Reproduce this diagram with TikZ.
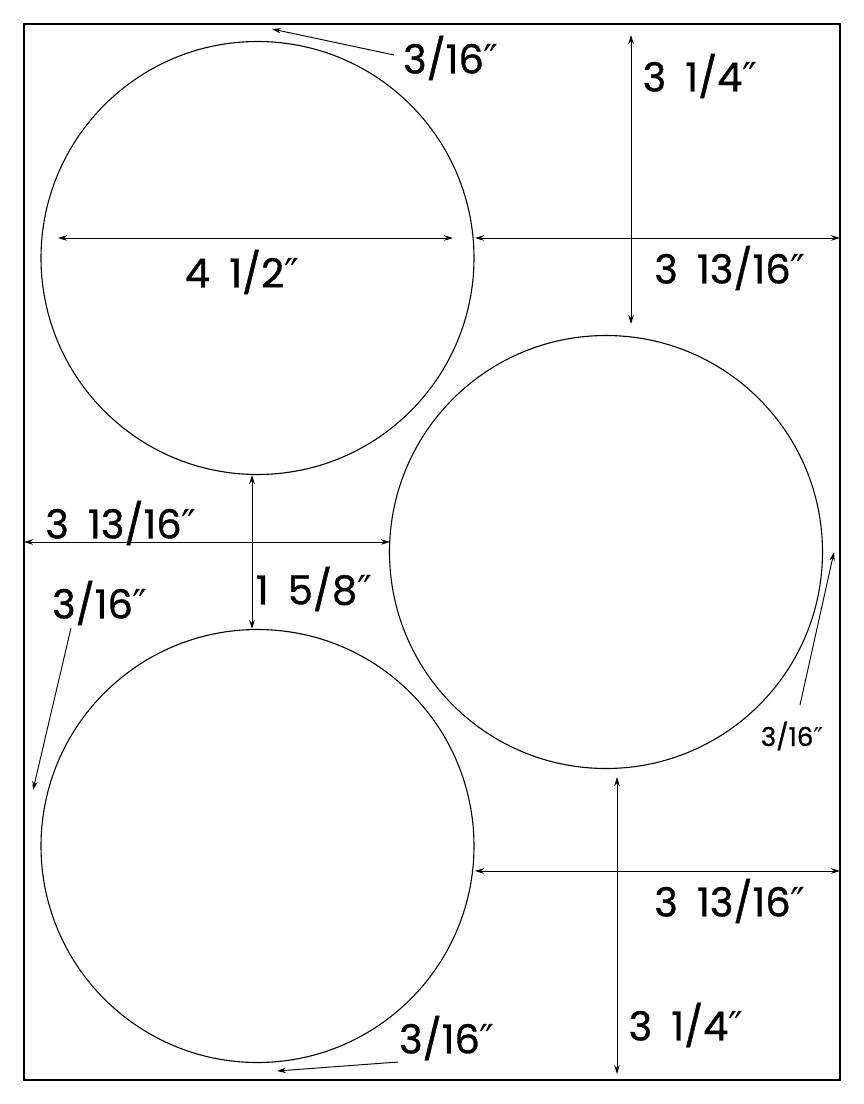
\documentclass[tikz,border=0pt]{standalone}
\usepackage{fontspec}
\setmainfont{Poppins}[FakeBold=0.9, WordSpace=1.8]
\newfontfamily\primefont{DejaVu Sans}
\usetikzlibrary{arrows.meta}
\newcommand{\inch}{{\primefont\char"2033}}
\tikzset{
    sheet/.style={draw, line width=1.3pt, rectangle, minimum width=816pt, minimum height=1056pt, inner sep=0pt},
    disc/.style={draw, line width=1.1pt, circle, minimum size=433pt, inner sep=0pt},
    dim/.style={line width=0.95pt, {Stealth[length=9pt,width=5.5pt]}-{Stealth[length=9pt,width=5.5pt]}},
    lead/.style={line width=0.95pt, -{Stealth[length=9pt,width=5.5pt]}},
    lbl/.style={font=\fontsize{40}{46}\selectfont, inner sep=0pt},
    smalllbl/.style={font=\fontsize{26}{30}\selectfont, inner sep=0pt}
}

\begin{document}
\begin{tikzpicture}[x=1pt, y=-1pt]
  \useasboundingbox (0,0) rectangle (864,1104);

  % sheet and the three discs
  \node[sheet] (sheet) at (432,552) {};
  \node[disc] (disc-top) at (257.5,258) {};
  \node[disc] (disc-right) at (606,552) {};
  \node[disc] (disc-bottom) at (257.5,846) {};

  % end points of the dimension lines
  \coordinate (dia-l) at (58,238);
  \coordinate (dia-r) at (453,238);
  \coordinate (top-r-l) at (475,238);
  \coordinate (top-r-r) at (840,238);
  \coordinate (top-v-t) at (631,35);
  \coordinate (top-v-b) at (631,324);
  \coordinate (mid-h-l) at (24,542);
  \coordinate (mid-h-r) at (390,542);
  \coordinate (gap-t) at (252,475);
  \coordinate (gap-b) at (252,629);
  \coordinate (bot-r-l) at (475,871);
  \coordinate (bot-r-r) at (840,871);
  \coordinate (bot-v-t) at (617,777);
  \coordinate (bot-v-b) at (617,1074);

  % leaders of the 3/16 margins
  \coordinate (lead-top-s) at (394,55);
  \coordinate (lead-top-e) at (272,29);
  \coordinate (lead-left-s) at (71,628);
  \coordinate (lead-left-e) at (33,790);
  \coordinate (lead-right-s) at (800,705);
  \coordinate (lead-right-e) at (834,552);
  \coordinate (lead-bot-s) at (398,1062);
  \coordinate (lead-bot-e) at (277,1071);

  \draw[dim] (dia-l) -- (dia-r);
  \draw[dim] (top-r-l) -- (top-r-r);
  \draw[dim] (top-v-t) -- (top-v-b);
  \draw[dim] (mid-h-l) -- (mid-h-r);
  \draw[dim] (gap-t) -- (gap-b);
  \draw[dim] (bot-r-l) -- (bot-r-r);
  \draw[dim] (bot-v-t) -- (bot-v-b);

  \draw[lead] (lead-top-s) -- (lead-top-e);
  \draw[lead] (lead-left-s) -- (lead-left-e);
  \draw[lead] (lead-right-s) -- (lead-right-e);
  \draw[lead] (lead-bot-s) -- (lead-bot-e);

  % labels
  \node[lbl] (dia-text) at (242,272) {4 1/2\inch};
  \node[lbl] (top-r-text) at (730,268) {3 13/16\inch};
  \node[lbl] (top-v-text) at (700,76) {3 1/4\inch};
  \node[lbl] (mid-h-text) at (121,523) {3 13/16\inch};
  \node[lbl] (gap-text) at (314,589) {1 5/8\inch};
  \node[lbl] (bot-r-text) at (730,901) {3 13/16\inch};
  \node[lbl] (bot-v-text) at (686,1025) {3 1/4\inch};
  \node[lbl] (margin-top-text) at (451,58) {3/16\inch};
  \node[lbl] (margin-left-text) at (100,603) {3/16\inch};
  \node[lbl] (margin-bot-text) at (447,1038) {3/16\inch};
  \node[smalllbl] (margin-right-text) at (792,736) {3/16\inch};
\end{tikzpicture}
\end{document}
